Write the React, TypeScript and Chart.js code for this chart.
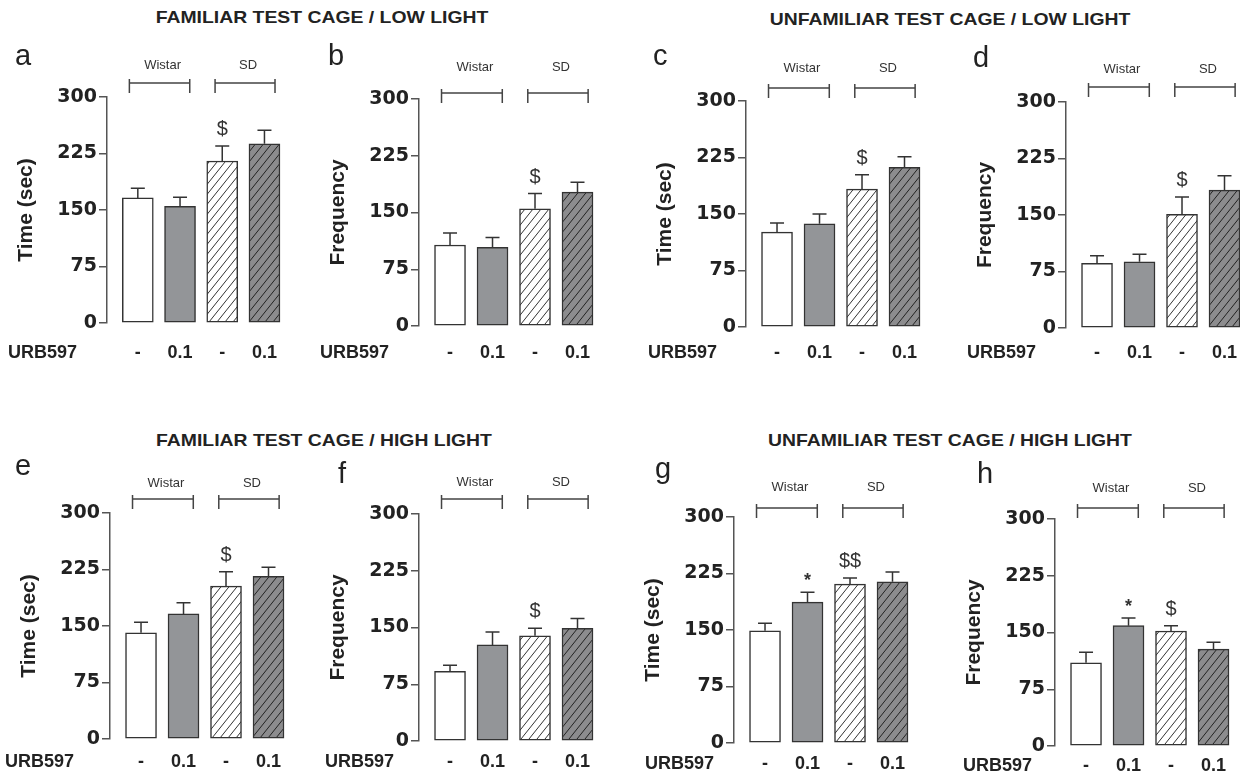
import React, { useEffect, useRef } from "react";
import { Chart, registerables } from "chart.js";

Chart.register(...registerables);

// ---------- data ----------
const categories = ["Wistar / vehicle", "Wistar / URB597 0.1", "SD / vehicle", "SD / URB597 0.1"];
const doseLabels = ["-", "0.1", "-", "0.1"];
const groupNames = ["Wistar", "SD"];
const yTickValues = [0, 75, 150, 225, 300];
const rowLabel = "URB597";

const headings = [
  "FAMILIAR TEST CAGE / LOW LIGHT",
  "UNFAMILIAR TEST CAGE / LOW LIGHT",
  "FAMILIAR TEST CAGE / HIGH LIGHT",
  "UNFAMILIAR TEST CAGE / HIGH LIGHT",
];

const aValues = [166, 155, 215, 238];
const aErrors = [13, 12, 20, 18];
const bValues = [107, 104, 155, 177];
const bErrors = [16, 13, 20, 13];
const cValues = [126, 137, 183, 212];
const cErrors = [12, 13, 19, 14];
const dValues = [86, 88, 151, 183];
const dErrors = [10, 10, 23, 19];
const eValues = [141, 166, 203, 216];
const eErrors = [14, 15, 19, 12];
const fValues = [92, 127, 139, 149];
const fErrors = [8, 17, 10, 13];
const gValues = [149, 187, 211, 214];
const gErrors = [10, 13, 8, 13];
const hValues = [110, 159, 152, 128];
const hErrors = [14, 10, 7, 9];

const marksStrain = ["", "", "$", ""];
const marksG = ["", "*", "$$", ""];
const marksH = ["", "*", "$", ""];

// ---------- layout (pixels) ----------
const AXIS_W = 110;
const TOP_PAD = 80;
const XAXIS_H = 50;
const X_MIN = -0.73;
const X_MAX = 3.6;
const PLOT_W = 184;
const RIGHT_PAD = 6;
const GROUP_SPANS = [
  [-0.2, 1.23],
  [1.83, 3.25],
];

type Layout = {
  axisX: number; yTop: number; yBot: number;
  letterX: number; letterY: number; brY: number; lblY: number; urbX: number; tickY: number;
};

type Panel = {
  letter: string; yTitle: string; values: number[]; errors: number[]; marks: string[]; layout: Layout;
};

const panels: Panel[] = [
  { letter: "a", yTitle: "Time (sec)", values: aValues, errors: aErrors, marks: marksStrain,
    layout: { axisX: 107, yTop: 97, yBot: 323, letterX: 15, letterY: 65, brY: 83, lblY: 65, urbX: 8, tickY: 353 } },
  { letter: "b", yTitle: "Frequency", values: bValues, errors: bErrors, marks: marksStrain,
    layout: { axisX: 419, yTop: 99, yBot: 326, letterX: 328, letterY: 65, brY: 93, lblY: 67, urbX: 320, tickY: 353 } },
  { letter: "c", yTitle: "Time (sec)", values: cValues, errors: cErrors, marks: marksStrain,
    layout: { axisX: 746, yTop: 101, yBot: 327, letterX: 653, letterY: 65, brY: 88, lblY: 68, urbX: 648, tickY: 353 } },
  { letter: "d", yTitle: "Frequency", values: dValues, errors: dErrors, marks: marksStrain,
    layout: { axisX: 1066, yTop: 102, yBot: 328, letterX: 973, letterY: 67, brY: 87, lblY: 69, urbX: 967, tickY: 353 } },
  { letter: "e", yTitle: "Time (sec)", values: eValues, errors: eErrors, marks: marksStrain,
    layout: { axisX: 110, yTop: 513, yBot: 739, letterX: 15, letterY: 475, brY: 499, lblY: 483, urbX: 5, tickY: 762 } },
  { letter: "f", yTitle: "Frequency", values: fValues, errors: fErrors, marks: marksStrain,
    layout: { axisX: 419, yTop: 514, yBot: 741, letterX: 338, letterY: 483, brY: 499, lblY: 482, urbX: 325, tickY: 762 } },
  { letter: "g", yTitle: "Time (sec)", values: gValues, errors: gErrors, marks: marksG,
    layout: { axisX: 734, yTop: 517, yBot: 743, letterX: 655, letterY: 478, brY: 508, lblY: 487, urbX: 645, tickY: 764 } },
  { letter: "h", yTitle: "Frequency", values: hValues, errors: hErrors, marks: marksH,
    layout: { axisX: 1055, yTop: 519, yBot: 746, letterX: 977, letterY: 483, brY: 508, lblY: 488, urbX: 963, tickY: 766 } },
];

const headingPos = [
  { x: 322, y: 18 },
  { x: 950, y: 20 },
  { x: 324, y: 441 },
  { x: 950, y: 441 },
];

const FONT = '"Liberation Sans", Arial, sans-serif';
const INK = "#222";
const LINE = "#444";

function makeHatch(bg: string, line: string): CanvasPattern | string {
  const w = 8, h = 10;
  const c = document.createElement("canvas");
  c.width = w; c.height = h;
  const g = c.getContext("2d");
  if (!g) return bg;
  g.fillStyle = bg;
  g.fillRect(0, 0, w, h);
  g.strokeStyle = line;
  g.lineWidth = 1;
  g.beginPath();
  for (const k of [-w, 0, w]) {
    g.moveTo(k, h);
    g.lineTo(k + w, 0);
  }
  g.stroke();
  const p = g.createPattern(c, "repeat");
  return p || bg;
}

const decorPlugin = {
  id: "decor",
  afterDatasetsDraw(chart: any, _args: any, opts: any) {
    const { ctx, chartArea } = chart;
    const xs = chart.scales.x;
    const ys = chart.scales.y;
    const meta = chart.getDatasetMeta(0);
    const L: Layout = opts.layout;
    const ox = L.axisX - AXIS_W;
    const oy = L.yTop - TOP_PAD;
    ctx.save();

    // error bars
    ctx.strokeStyle = "#333";
    ctx.lineWidth = 1.5;
    (opts.values as number[]).forEach((v, i) => {
      const el = meta.data[i];
      const px = el.x;
      const top = ys.getPixelForValue(v);
      const et = ys.getPixelForValue(v + opts.errors[i]);
      ctx.beginPath();
      ctx.moveTo(px, top);
      ctx.lineTo(px, et);
      ctx.moveTo(px - 7, et);
      ctx.lineTo(px + 7, et);
      ctx.stroke();
      const m = opts.marks[i];
      if (m) {
        ctx.fillStyle = "#333";
        ctx.textAlign = "center";
        ctx.textBaseline = "alphabetic";
        if (m === "*") {
          ctx.font = `bold 18px ${FONT}`;
          ctx.fillText(m, px, et - 6);
        } else {
          ctx.font = `20px ${FONT}`;
          ctx.fillText(m, px, et - 11);
        }
      }
    });

    // group brackets
    ctx.strokeStyle = LINE;
    ctx.lineWidth = 1.5;
    const by = L.brY - oy;
    GROUP_SPANS.forEach((span, gi) => {
      const x1 = xs.getPixelForValue(span[0]);
      const x2 = xs.getPixelForValue(span[1]);
      ctx.beginPath();
      ctx.moveTo(x1, by);
      ctx.lineTo(x2, by);
      ctx.moveTo(x1, by - 4);
      ctx.lineTo(x1, by + 10);
      ctx.moveTo(x2, by - 4);
      ctx.lineTo(x2, by + 10);
      ctx.stroke();
      ctx.fillStyle = "#333";
      ctx.font = `13px ${FONT}`;
      ctx.textAlign = "center";
      ctx.textBaseline = "middle";
      ctx.fillText(groupNames[gi], (x1 + x2) / 2 + 3, L.lblY - oy);
    });

    // panel letter
    ctx.fillStyle = INK;
    ctx.font = `29px ${FONT}`;
    ctx.textAlign = "left";
    ctx.textBaseline = "alphabetic";
    ctx.fillText(opts.letter, L.letterX - ox, L.letterY - oy);

    // row label
    ctx.font = `bold 18px ${FONT}`;
    ctx.textBaseline = "middle";
    ctx.fillText(rowLabel, L.urbX - ox, L.tickY - oy);

    // y title
    ctx.font = `bold 21px ${FONT}`;
    ctx.textAlign = "center";
    ctx.textBaseline = "middle";
    ctx.translate(chartArea.left - 81, (chartArea.top + chartArea.bottom) / 2);
    ctx.rotate(-Math.PI / 2);
    ctx.fillText(opts.yTitle, 0, 0);
    ctx.restore();
  },
};

function PanelChart({ panel }: { panel: Panel }) {
  const ref = useRef<HTMLCanvasElement | null>(null);
  const L = panel.layout;
  const width = AXIS_W + PLOT_W + RIGHT_PAD;
  const height = TOP_PAD + (L.yBot - L.yTop) + XAXIS_H;

  useEffect(() => {
    if (!ref.current) return;
    const hatchWhite = makeHatch("#ffffff", "#333333");
    const hatchGray = makeHatch("#8c8c8e", "#222222");
    const fills = ["#ffffff", "#939598", hatchWhite, hatchGray];
    const chart = new Chart(ref.current, {
      type: "bar",
      data: {
        labels: categories,
        datasets: [
          {
            label: "mean",
            data: panel.values.map((v, i) => ({ x: i, y: v })) as any,
            backgroundColor: fills as any,
            borderColor: "#333",
            borderWidth: 1.5,
            borderSkipped: false,
            barThickness: 31,
          },
        ],
      },
      options: {
        responsive: false,
        animation: false,
        events: [],
        layout: { padding: { top: TOP_PAD, right: RIGHT_PAD, left: 0, bottom: 0 } },
        plugins: {
          legend: { display: false },
          tooltip: { enabled: false },
          decor: {
            layout: L,
            values: panel.values,
            errors: panel.errors,
            marks: panel.marks,
            letter: panel.letter,
            yTitle: panel.yTitle,
          },
        } as any,
        scales: {
          x: {
            type: "linear",
            offset: false,
            min: X_MIN,
            max: X_MAX,
            afterBuildTicks: (s: any) => {
              s.ticks = categories.map((_, i) => ({ value: i }));
            },
            afterFit: (s: any) => {
              s.height = XAXIS_H;
            },
            ticks: {
              autoSkip: false,
              maxRotation: 0,
              padding: L.tickY - L.yBot - 10.8,
              color: INK,
              font: { family: FONT, size: 18, weight: "bold" },
              callback: (_v: any, i: number) => doseLabels[i],
            },
            grid: { display: false, drawTicks: false, offset: false },
            border: { display: false },
          },
          y: {
            min: 0,
            max: 300,
            afterBuildTicks: (s: any) => {
              s.ticks = yTickValues.map((v) => ({ value: v }));
            },
            afterFit: (s: any) => {
              s.width = AXIS_W;
            },
            ticks: {
              padding: 2,
              color: INK,
              font: { family: '"DejaVu Sans", sans-serif', size: 19, weight: "bold" },
            },
            grid: {
              drawOnChartArea: false,
              drawTicks: true,
              tickLength: 8,
              color: "#555",
              lineWidth: 1.5,
            },
            border: { display: true, color: "#555", width: 1.5 },
          },
        },
      } as any,
      plugins: [decorPlugin],
    });
    return () => chart.destroy();
  }, [panel]);

  return (
    <canvas
      ref={ref}
      width={width}
      height={height}
      style={{
        position: "absolute",
        left: L.axisX - AXIS_W,
        top: L.yTop - TOP_PAD,
        width,
        height,
      }}
    />
  );
}

export default function App() {
  return (
    <div
      style={{
        position: "fixed",
        left: 0,
        top: 0,
        width: 1240,
        height: 776,
        overflow: "hidden",
        background: "#fff",
      }}
    >
      {headings.map((h, i) => (
        <div
          key={h}
          style={{
            position: "absolute",
            left: headingPos[i].x,
            top: headingPos[i].y,
            transform: "translate(-50%, -50%) scaleX(1.14)",
            whiteSpace: "nowrap",
            font: `bold 17px ${FONT}`,
            color: INK,
          }}
        >
          {h}
        </div>
      ))}
      {panels.map((p) => (
        <PanelChart key={p.letter} panel={p} />
      ))}
    </div>
  );
}
